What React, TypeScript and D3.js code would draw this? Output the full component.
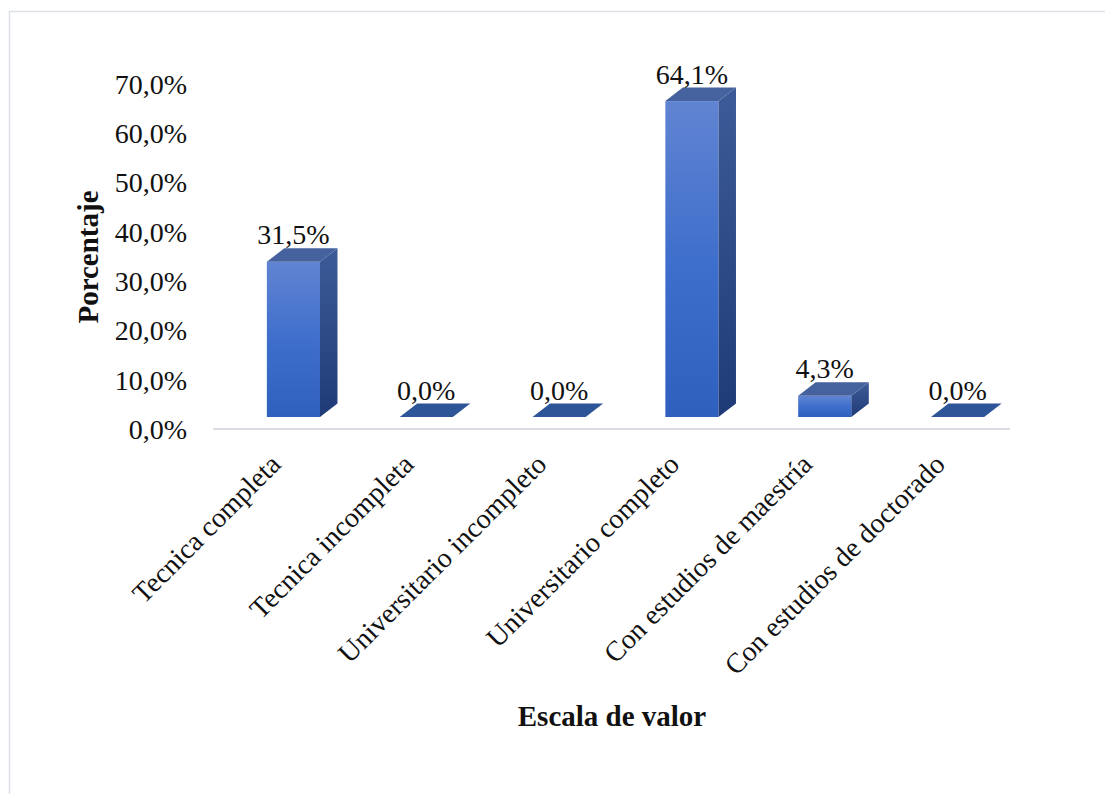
import React from "react";
import * as d3 from "d3";

const categories = [
  "Tecnica completa",
  "Tecnica incompleta",
  "Universitario incompleto",
  "Universitario completo",
  "Con estudios de maestría",
  "Con estudios de doctorado",
];
const values = [31.5, 0.0, 0.0, 64.1, 4.3, 0.0];
const yTicks = [0, 10, 20, 30, 40, 50, 60, 70];

const W = 1105;
const H = 794;
const FONT = "'Liberation Serif', 'Times New Roman', serif";

const fmt = (v: number) => v.toFixed(1).replace(".", ",") + "%";

export default function App() {
  const x = d3.scaleBand<string>().domain(categories).range([213, 1010]).padding(0);
  const y = d3.scaleLinear().domain([0, 70]).range([429, 84]);
  // 3D offsets
  const shiftX = 14;
  const shiftY = 12;
  const depthX = 17.5;
  const depthY = 13.5;
  const barW = x.bandwidth() * 0.4;

  return (
    <svg width={W} height={H} style={{ position: "absolute", left: 0, top: 0, background: "#fff" }}>
      <defs>
        <linearGradient id="front" x1="0" y1="0" x2="0" y2="1">
          <stop offset="0%" stopColor="#6184d2" />
          <stop offset="50%" stopColor="#3f6fcc" />
          <stop offset="100%" stopColor="#3060bd" />
        </linearGradient>
        <linearGradient id="side" x1="0" y1="0" x2="0" y2="1">
          <stop offset="0%" stopColor="#3d5b98" />
          <stop offset="100%" stopColor="#1f3b77" />
        </linearGradient>
      </defs>
      <rect x={9.5} y={11.5} width={W} height={H} fill="#fff" stroke="#dde1e6" strokeWidth={1.5} />

      {/* axis floor line */}
      <line x1={x.range()[0]} x2={x.range()[1]} y1={y(0)} y2={y(0)} stroke="#dadee4" strokeWidth={2} />

      {/* y tick labels */}
      {yTicks.map((t) => (
        <text
          key={t}
          x={187}
          y={y(t)}
          dy="0.35em"
          textAnchor="end"
          fontFamily={FONT}
          fontSize={28}
          fill="#111"
        >
          {fmt(t)}
        </text>
      ))}

      {/* bars */}
      {categories.map((c, i) => {
        const v = values[i];
        const cx = (x(c) as number) + x.bandwidth() / 2 + shiftX;
        const x0 = cx - barW / 2;
        const x1 = cx + barW / 2;
        const yb = y(0) - shiftY;
        const yt = y(v) - shiftY;
        const topPts = `${x0},${yt} ${x1},${yt} ${x1 + depthX},${yt - depthY} ${x0 + depthX},${yt - depthY}`;
        const sidePts = `${x1},${yt} ${x1 + depthX},${yt - depthY} ${x1 + depthX},${yb - depthY} ${x1},${yb}`;
        return (
          <g key={c}>
            {v > 0 && <rect x={x0} y={yt} width={barW} height={yb - yt} fill="url(#front)" />}
            {v > 0 && <polygon points={sidePts} fill="url(#side)" />}
            <polygon points={topPts} fill={v > 0 ? "#45619e" : "#2e5597"} />
            <text
              x={cx}
              y={yt - depthY - 4}
              textAnchor="middle"
              fontFamily={FONT}
              fontSize={28}
              fill="#111"
            >
              {fmt(v)}
            </text>
          </g>
        );
      })}

      {/* category labels */}
      {categories.map((c) => {
        const cx = (x(c) as number) + x.bandwidth() / 2 + shiftX - 11;
        const ly = 466;
        return (
          <text
            key={c}
            transform={`translate(${cx},${ly}) rotate(-45)`}
            textAnchor="end"
            fontFamily={FONT}
            fontSize={28}
            fill="#111"
          >
            {c}
          </text>
        );
      })}

      {/* axis titles */}
      <text
        x={612}
        y={726}
        textAnchor="middle"
        fontFamily={FONT}
        fontSize={29}
        fontWeight="bold"
        fill="#111"
      >
        Escala de valor
      </text>
      <text
        transform={`translate(88,257) rotate(-90)`}
        dy="0.35em"
        textAnchor="middle"
        fontFamily={FONT}
        fontSize={29}
        fontWeight="bold"
        fill="#111"
      >
        Porcentaje
      </text>
    </svg>
  );
}
